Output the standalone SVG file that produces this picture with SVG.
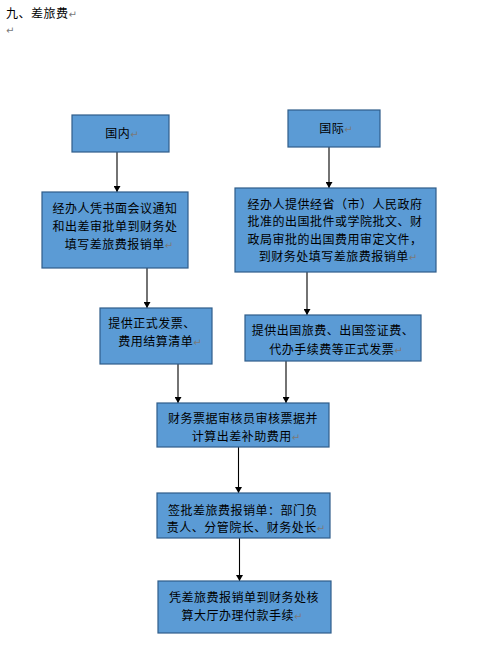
<svg xmlns="http://www.w3.org/2000/svg" width="488" height="664" viewBox="0 0 488 664">
<defs>
<marker id="ah" markerWidth="7" markerHeight="7" refX="6" refY="3.5" orient="auto" markerUnits="userSpaceOnUse">
<path d="M0,0 L6,3.5 L0,7 Z" fill="#000"/>
</marker>
<style>
.box{fill:#5B9BD5;stroke:#2F5D8A;stroke-width:1.2}
.t{font-family:"Noto Sans CJK SC","Noto Sans",sans-serif;font-size:12px;letter-spacing:0.5px;fill:#000;text-anchor:middle}
.r{fill:#7a7a7a;font-family:"DejaVu Sans",sans-serif;font-size:10px;letter-spacing:0}
.c{stroke:#000;stroke-width:1.1;fill:none;marker-end:url(#ah)}
</style>
</defs>
<rect width="488" height="664" fill="#fff"/>
<g id="title">
<text x="6" y="18" class="t" style="text-anchor:start">九、差旅费<tspan class="r">↵</tspan></text>
<text x="6" y="34" class="r">↵</text>
</g>
<g id="connectors">
<line x1="117" y1="152" x2="117" y2="192" class="c"/>
<line x1="329" y1="147" x2="329" y2="188" class="c"/>
<line x1="147" y1="268" x2="147" y2="308" class="c"/>
<line x1="307" y1="272" x2="307" y2="315" class="c"/>
<line x1="178" y1="364" x2="178" y2="403" class="c"/>
<line x1="286" y1="361" x2="286" y2="403" class="c"/>
<line x1="238.5" y1="447" x2="238.5" y2="493" class="c"/>
<line x1="239.5" y1="538" x2="239.5" y2="581" class="c"/>
</g>
<g id="n_domestic">
<rect x="72" y="115" width="97" height="37" class="box"/>
<text x="122" y="138" class="t">国内<tspan class="r">↵</tspan></text>
</g>
<g id="n_intl">
<rect x="288" y="110" width="92" height="37" class="box"/>
<text x="336" y="133" class="t">国际<tspan class="r">↵</tspan></text>
</g>
<g id="n_dom_fill">
<rect x="42" y="192" width="146" height="76" class="box"/>
<text x="115" y="212.5" class="t">经办人凭书面会议通知</text>
<text x="115" y="231" class="t">和出差审批单到财务处</text>
<text x="119" y="249" class="t">填写差旅费报销单<tspan class="r">↵</tspan></text>
</g>
<g id="n_intl_fill">
<rect x="235" y="188" width="201" height="84" class="box"/>
<text x="335" y="208.5" class="t">经办人提供经省（市）人民政府</text>
<text x="335" y="226" class="t">批准的出国批件或学院批文、财</text>
<text x="335" y="243.5" class="t">政局审批的出国费用审定文件，</text>
<text x="338" y="261" class="t">到财务处填写差旅费报销单<tspan class="r">↵</tspan></text>
</g>
<g id="n_dom_invoice">
<rect x="100" y="308" width="112" height="56" class="box"/>
<text x="152" y="327.5" class="t">提供正式发票、</text>
<text x="160" y="346" class="t">费用结算清单<tspan class="r">↵</tspan></text>
</g>
<g id="n_intl_invoice">
<rect x="245" y="315" width="176" height="46" class="box"/>
<text x="333" y="335" class="t">提供出国旅费、出国签证费、</text>
<text x="336" y="353.5" class="t">代办手续费等正式发票<tspan class="r">↵</tspan></text>
</g>
<g id="n_audit">
<rect x="157" y="403" width="172" height="44" class="box"/>
<text x="243" y="422.5" class="t">财务票据审核员审核票据并</text>
<text x="246" y="440.5" class="t">计算出差补助费用<tspan class="r">↵</tspan></text>
</g>
<g id="n_sign">
<rect x="157" y="493" width="173" height="45" class="box"/>
<text x="243" y="514.5" class="t">签批差旅费报销单：部门负</text>
<text x="246" y="532" class="t">责人、分管院长、财务处长<tspan class="r">↵</tspan></text>
</g>
<g id="n_pay">
<rect x="158" y="581" width="173" height="52" class="box"/>
<text x="244" y="602" class="t">凭差旅费报销单到财务处核</text>
<text x="242" y="619.5" class="t">算大厅办理付款手续<tspan class="r">↵</tspan></text>
</g>
</svg>
